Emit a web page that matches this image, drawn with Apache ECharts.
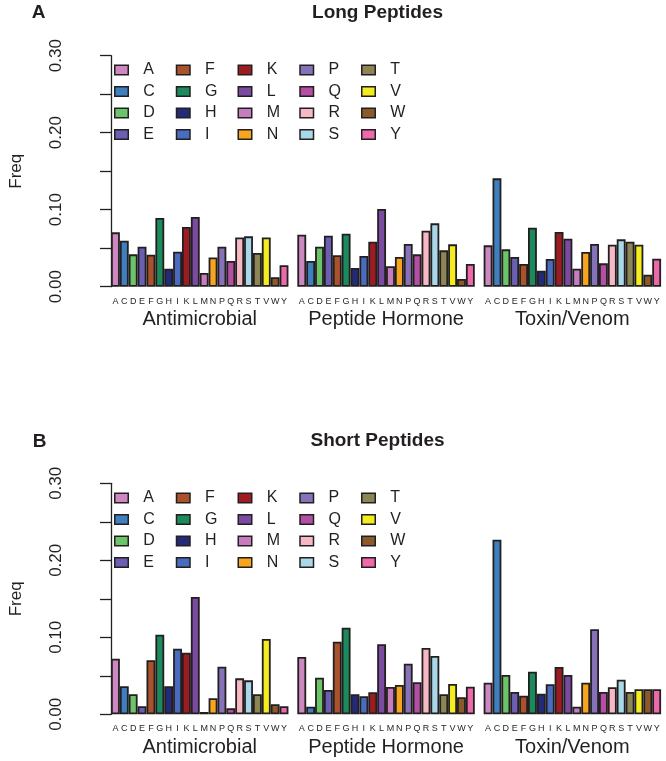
<!DOCTYPE html>
<html>
<head>
<meta charset="utf-8">
<script src="https://cdn.jsdelivr.net/npm/echarts@6/dist/echarts.min.js"></script>
<style>html,body{margin:0;padding:0;background:#fff}#c{width:666px;height:761px}</style>
</head>
<body>
<div id="c"></div>
<script>
const letters = ['A','C','D','E','F','G','H','I','K','L','M','N','P','Q','R','S','T','V','W','Y'];
const groups = ['Antimicrobial','Peptide Hormone','Toxin/Venom'];
const yTicks = [0, 0.1, 0.2, 0.3];
const groupCenters = [10, 31, 52];

const longAntimicrobial = [0.0706,0.0598,0.042,0.052,0.0416,0.0892,0.0234,0.0455,0.0775,0.0905,0.0178,0.038,0.052,0.0334,0.064,0.0654,0.0437,0.064,0.0122,0.0278];
const longHormone = [0.0675,0.0334,0.052,0.0662,0.0408,0.0688,0.0243,0.0399,0.0584,0.1009,0.0265,0.0386,0.0555,0.042,0.0727,0.0823,0.0472,0.055,0.010,0.0295];
const longToxin = [0.0537,0.1407,0.0485,0.0385,0.0295,0.0766,0.0208,0.036,0.071,0.0623,0.0234,0.045,0.0555,0.0303,0.0546,0.0615,0.0584,0.0546,0.0156,0.0364];

const shortAntimicrobial = [0.0722,0.0364,0.026,0.0104,0.0701,0.1034,0.0364,0.0852,0.080,0.1523,0.003,0.0208,0.0618,0.0078,0.0467,0.0441,0.026,0.0978,0.013,0.0104];
const shortHormone = [0.0744,0.0099,0.0475,0.0316,0.0943,0.1125,0.026,0.0234,0.0286,0.0909,0.0355,0.0381,0.0657,0.0416,0.0861,0.0757,0.026,0.0394,0.0221,0.0359];
const shortToxin = [0.041,0.2268,0.051,0.029,0.0242,0.0553,0.0268,0.039,0.0614,0.051,0.0099,0.041,0.1104,0.029,0.0351,0.0449,0.029,0.0325,0.0325,0.0325];

const colors = ['#cd88c2','#3f7fbd','#6cc46a','#6b5fb1','#a9522b','#1b8a5c','#232a78','#4a6cbf','#9c1c22','#7b4aa1','#c87cc0','#f7a51f','#8572b9','#b44fa3','#f6b8c4','#a9d8e9','#8b8654','#f3ec1e','#8c5a2a','#ec6aa9'];

const ink = '#231f20';
const font = 'Liberation Sans, Arial, Helvetica, sans-serif';

const panels = [
  {top: 55.7, values: [longAntimicrobial, longHormone, longToxin], legendTop: 62},
  {top: 483.3, values: [shortAntimicrobial, shortHormone, shortToxin], legendTop: 490}
];

const cats = [];
groups.forEach((g, gi) => {
  letters.forEach(l => cats.push(l));
  if (gi < groups.length - 1) cats.push('');
});

const grid = [], xAxis = [], yAxis = [], series = [], legend = [];
panels.forEach((p, pi) => {
  grid.push({left: 107.3, width: 553.8, top: p.top, height: 231});
  xAxis.push({
    gridIndex: pi, type: 'category', data: cats, position: 'bottom',
    axisLine: {show: false}, axisTick: {show: false},
    axisLabel: {interval: 0, fontSize: 9, margin: 10, color: ink, fontFamily: font}
  });
  xAxis.push({
    gridIndex: pi, type: 'value', min: 0, max: cats.length, position: 'bottom',
    axisLine: {show: false}, axisTick: {show: false}, splitLine: {show: false},
    axisLabel: {customValues: groupCenters, margin: 23, fontSize: 20, color: ink, fontFamily: font,
      formatter: v => groups[groupCenters.indexOf(Math.round(v))]}
  });
  yAxis.push({
    gridIndex: pi, type: 'value', min: 0, max: 0.3, interval: 0.05, offset: 22,
    axisLine: {show: true, lineStyle: {color: ink, width: 1.3}},
    axisTick: {show: true, length: 11, lineStyle: {color: ink, width: 1.3}},
    splitLine: {show: false},
    axisLabel: {customValues: yTicks, rotate: 90, margin: 24, fontSize: 17, color: ink, fontFamily: font,
      formatter: v => v.toFixed(2)},
    name: 'Freq', nameLocation: 'middle', nameRotate: 90, nameGap: 64,
    nameTextStyle: {fontSize: 17, color: ink, fontFamily: font}
  });
  letters.forEach((l, k) => {
    const data = cats.map(() => '-');
    p.values.forEach((arr, gi) => { data[gi * (letters.length + 1) + k] = arr[k]; });
    series.push({
      type: 'bar', name: l, xAxisIndex: pi * 2, yAxisIndex: pi, stack: 'p' + pi,
      barWidth: '100%', data,
      itemStyle: {color: colors[k], borderColor: ink, borderWidth: 1.8},
      emphasis: {disabled: true}
    });
  });
  legend.push({
    data: letters, orient: 'vertical', left: 114, top: p.legendTop, height: 86, padding: 0,
    itemGap: 5.5, itemWidth: 13.5, itemHeight: 9.5, icon: 'rect', selectedMode: false,
    itemStyle: {borderWidth: 1.5},
    textStyle: {fontSize: 16, color: ink, fontFamily: font, lineHeight: 16, width: 27, padding: [0, 0, 0, 10]}
  });
});

const titleStyle = {fontSize: 19, fontWeight: 'bold', color: ink, fontFamily: font};
const title = [
  {text: 'A', left: 38.5, textAlign: 'center', top: 3.5, padding: 0, textStyle: titleStyle},
  {text: 'Long Peptides', left: 377.5, textAlign: 'center', top: 3, padding: 0, textStyle: titleStyle},
  {text: 'B', left: 39.5, textAlign: 'center', top: 432, padding: 0, textStyle: titleStyle},
  {text: 'Short Peptides', left: 377.5, textAlign: 'center', top: 431.5, padding: 0, textStyle: titleStyle}
];

const chart = echarts.init(document.getElementById('c'));
chart.setOption({animation: false, title, grid, xAxis, yAxis, series, legend});
</script>
</body>
</html>
